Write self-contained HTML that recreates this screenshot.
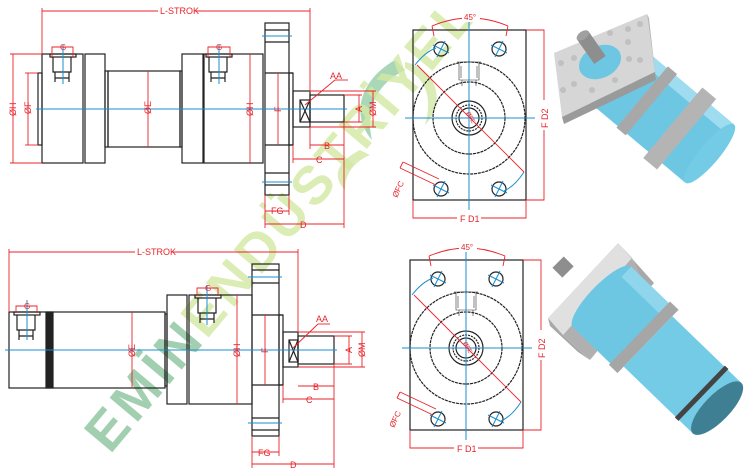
<!DOCTYPE html>
<html><head><meta charset="utf-8"><style>
html,body{margin:0;padding:0;background:#fff;width:747px;height:475px;overflow:hidden}
svg{display:block}
text{font-family:"Liberation Sans",sans-serif}
.k{fill:none;stroke:#222;stroke-width:1.2}
.r{fill:none;stroke:#e8232a;stroke-width:0.9}
.b{fill:none;stroke:#1a8fd0;stroke-width:1}
.t{fill:#e8232a;font-size:9px}
.thin{fill:none;stroke:#333;stroke-width:0.6}
</style></head><body>
<svg width="747" height="475" viewBox="0 0 747 475" xmlns="http://www.w3.org/2000/svg">
<!-- watermark -->
<g opacity="0.75">
<path d="M395,60 C360,80 350,115 372,140 C365,110 375,85 405,70 Z" fill="#8cc9a0"/>
<path d="M405,62 C440,70 445,105 425,125 C432,100 428,80 405,68 Z" fill="#cfe6a0"/>
<path d="M360,150 C340,160 330,175 345,190 C345,175 352,163 370,155 Z" fill="#cfe6a0"/>
</g>
<g transform="translate(110,455) rotate(-50)" opacity="0.8">
<text x="0" y="0" font-size="54" font-weight="bold" fill="#8cc49c" letter-spacing="4">EMİN</text>
<text x="150" y="0" font-size="54" font-weight="bold" fill="#d3e9a2" letter-spacing="4">ENDÜSTRİYEL</text>
</g>

<!-- ===== TOP LEFT SIDE VIEW ===== -->
<g class="k">
<rect x="38" y="73" width="4" height="72"/>
<rect x="42" y="54" width="41" height="109"/>
<rect x="85" y="54" width="20" height="109"/>
<rect x="105" y="71" width="3" height="76"/>
<rect x="108" y="71" width="72" height="76"/>
<rect x="180" y="71" width="2" height="76"/>
<rect x="182" y="54" width="21" height="109"/>
<rect x="204" y="54" width="59" height="109"/>
<rect x="265" y="23" width="24" height="172"/>
<line x1="265" y1="30" x2="289" y2="30"/><line x1="265" y1="42" x2="289" y2="42"/>
<line x1="265" y1="173" x2="289" y2="173"/><line x1="265" y1="185" x2="289" y2="185"/>
<line x1="265" y1="73" x2="293" y2="73"/><line x1="265" y1="145" x2="293" y2="145"/>
<rect x="289" y="73" width="4" height="72"/>
<rect x="293" y="91" width="17" height="36"/>
<rect x="300" y="100" width="10" height="22"/>
<line x1="300" y1="100" x2="310" y2="122"/><line x1="310" y1="100" x2="300" y2="122"/>
<rect x="310" y="95" width="34" height="27"/>
<rect x="50" y="54" width="26" height="3"/>
<path d="M53,57 V72 H71 V57 M55,72 V82 M69,72 V82 M55,78 H69"/>
<rect x="206" y="54" width="26" height="3"/>
<path d="M209,57 V72 H227 V57 M211,72 V82 M225,72 V82 M211,78 H225"/>
</g>
<line class="b" x1="36" y1="109" x2="347" y2="109"/>
<line class="b" x1="63" y1="45" x2="63" y2="84"/>
<line class="b" x1="219" y1="45" x2="219" y2="84"/>
<line class="b" x1="262" y1="36" x2="292" y2="36"/>
<line class="b" x1="262" y1="182" x2="292" y2="182"/>
<g class="r">
<line x1="42" y1="11" x2="310" y2="11"/><line x1="42" y1="8" x2="42" y2="54"/><line x1="310" y1="8" x2="310" y2="92"/>
<line x1="10" y1="54" x2="42" y2="54"/><line x1="10" y1="163" x2="42" y2="163"/><line x1="13" y1="54" x2="13" y2="163"/>
<line x1="25" y1="73" x2="38" y2="73"/><line x1="25" y1="145" x2="38" y2="145"/><line x1="28" y1="73" x2="28" y2="145"/>
<line x1="148" y1="71" x2="148" y2="147"/>
<line x1="250" y1="54" x2="250" y2="163"/>
<line x1="278" y1="73" x2="278" y2="145"/>
<line x1="310" y1="91" x2="376" y2="91"/><line x1="310" y1="127" x2="376" y2="127"/><line x1="344" y1="95" x2="362" y2="95"/><line x1="344" y1="122" x2="362" y2="122"/>
<line x1="359" y1="95" x2="359" y2="122"/><line x1="373" y1="91" x2="373" y2="127"/>
<line x1="305" y1="105" x2="335" y2="80"/><line x1="335" y1="80" x2="348" y2="80"/>
<line x1="310" y1="127" x2="310" y2="149"/><line x1="344" y1="122" x2="344" y2="228"/>
<line x1="310" y1="145" x2="344" y2="145"/>
<line x1="293" y1="145" x2="293" y2="163"/><line x1="293" y1="159" x2="344" y2="159"/>
<line x1="265" y1="195" x2="265" y2="228"/><line x1="289" y1="195" x2="289" y2="215"/>
<line x1="265" y1="211" x2="289" y2="211"/><line x1="265" y1="224" x2="344" y2="224"/>
<path d="M52,58 V47 H73 V58 M208,58 V47 H230 V58"/>
</g>
<g class="t">
<rect x="158" y="6" width="36" height="10" fill="#fff" stroke="none"/>
<text x="160" y="14">L-STROK</text>
<text x="60" y="50" font-size="8">G</text><text x="216" y="50" font-size="8">G</text>
<text transform="translate(16,116) rotate(-90)">ØH</text>
<text transform="translate(31,114) rotate(-90)">ØF</text>
<text transform="translate(151,114) rotate(-90)">ØE</text>
<text transform="translate(253,116) rotate(-90)">ØH</text>
<text transform="translate(281,112) rotate(-90)">F</text>
<text transform="translate(362,112) rotate(-90)">A</text>
<text transform="translate(376,116) rotate(-90)">ØM</text>
<text x="330" y="79">AA</text>
<text x="324" y="149">B</text><text x="316" y="163">C</text>
<text x="271" y="214">FG</text><text x="300" y="228">D</text>
</g>

<!-- ===== BOTTOM LEFT SIDE VIEW ===== -->
<g class="k">
<rect x="9" y="312" width="156" height="76"/>
<rect x="46" y="312" width="7" height="76" fill="#222"/>
<rect x="165" y="314" width="2" height="72"/>
<rect x="167" y="295" width="20" height="109"/>
<rect x="189" y="295" width="63" height="109"/>
<rect x="252" y="264" width="27" height="172"/>
<line x1="252" y1="270" x2="279" y2="270"/><line x1="252" y1="283" x2="279" y2="283"/>
<line x1="252" y1="418" x2="279" y2="418"/><line x1="252" y1="430" x2="279" y2="430"/>
<line x1="252" y1="315" x2="283" y2="315"/><line x1="252" y1="385" x2="283" y2="385"/>
<rect x="279" y="315" width="4" height="70"/>
<rect x="283" y="332" width="15" height="35"/>
<rect x="289" y="340" width="9" height="22"/>
<line x1="289" y1="340" x2="298" y2="362"/><line x1="298" y1="340" x2="289" y2="362"/>
<rect x="298" y="336" width="36" height="28"/>
<rect x="14" y="312" width="26" height="3"/>
<path d="M17,315 V330 H35 V315 M19,330 V340 M33,330 V340 M19,336 H33"/>
<rect x="195" y="295" width="26" height="3"/>
<path d="M198,298 V313 H216 V298 M200,313 V323 M214,313 V323 M200,319 H214"/>
</g>
<line class="b" x1="5" y1="350" x2="337" y2="350"/>
<line class="b" x1="27" y1="300" x2="27" y2="340"/>
<line class="b" x1="207" y1="285" x2="207" y2="325"/>
<line class="b" x1="248" y1="277" x2="282" y2="277"/>
<line class="b" x1="248" y1="423" x2="282" y2="423"/>
<g class="r">
<line x1="9" y1="252" x2="298" y2="252"/><line x1="9" y1="249" x2="9" y2="312"/><line x1="298" y1="249" x2="298" y2="332"/>
<line x1="132" y1="312" x2="132" y2="388"/>
<line x1="237" y1="295" x2="237" y2="404"/>
<line x1="265" y1="315" x2="265" y2="385"/>
<line x1="298" y1="332" x2="365" y2="332"/><line x1="298" y1="367" x2="365" y2="367"/><line x1="334" y1="336" x2="352" y2="336"/><line x1="334" y1="364" x2="352" y2="364"/>
<line x1="349" y1="336" x2="349" y2="364"/><line x1="362" y1="332" x2="362" y2="367"/>
<line x1="293" y1="348" x2="318" y2="324"/><line x1="318" y1="324" x2="330" y2="324"/>
<line x1="334" y1="364" x2="334" y2="468"/>
<line x1="298" y1="386" x2="334" y2="386"/>
<line x1="283" y1="385" x2="283" y2="403"/><line x1="283" y1="399" x2="334" y2="399"/>
<line x1="252" y1="436" x2="252" y2="468"/><line x1="279" y1="436" x2="279" y2="456"/>
<line x1="252" y1="452" x2="279" y2="452"/><line x1="252" y1="464" x2="334" y2="464"/>
<path d="M16,313 V306 H37 V313 M197,296 V288 H218 V296"/>
</g>
<g class="t">
<rect x="135" y="247" width="36" height="10" fill="#fff" stroke="none"/>
<text x="137" y="255">L-STROK</text>
<text x="24" y="309" font-size="8">G</text><text x="205" y="291" font-size="8">G</text>
<text transform="translate(135,357) rotate(-90)">ØE</text>
<text transform="translate(240,357) rotate(-90)">ØH</text>
<text transform="translate(268,353) rotate(-90)">F</text>
<text transform="translate(352,353) rotate(-90)">A</text>
<text transform="translate(365,357) rotate(-90)">ØM</text>
<text x="316" y="322">AA</text>
<text x="313" y="390">B</text><text x="306" y="403">C</text>
<text x="258" y="456">FG</text><text x="290" y="468">D</text>
</g>

<!-- ===== FRONT VIEWS ===== -->
<g id="fv1">
<rect class="k" x="413" y="30" width="113" height="170"/>
<circle class="k" cx="469" cy="118" r="56" stroke-dasharray="3 0.8"/>
<circle class="k" cx="469" cy="118" r="36" stroke-dasharray="3 0.8"/>
<circle class="k" cx="469" cy="118" r="17"/>
<circle class="k" cx="469" cy="118" r="13" stroke-dasharray="2 1"/>
<circle class="k" cx="469" cy="118" r="10"/>
<path class="thin" d="M457,62 H481 M459,62 V80 H479 V62 M461,66 V78 M477,66 V78 M462,80 V86 M476,80 V86"/>
<circle class="k" cx="441" cy="49" r="7"/><circle class="k" cx="499" cy="49" r="7"/>
<circle class="k" cx="441" cy="189" r="7"/><circle class="k" cx="499" cy="189" r="7"/>
<g class="b" stroke-width="0.8"><path d="M433,45 l16,8 M437,57 l8,-16 M491,45 l16,8 M495,57 l8,-16 M433,185 l16,8 M437,197 l8,-16 M491,185 l16,8 M495,197 l8,-16"/>
<path d="M415,65 Q425,52 436,48 M524,172 Q515,186 504,191"/></g>
<line class="b" x1="469" y1="12" x2="469" y2="210"/>
<line class="b" x1="405" y1="118" x2="535" y2="118"/>
<g class="r">
<line x1="417" y1="65" x2="524" y2="172"/>
<path d="M432,26 Q470,10 508,26 M432,26 l2,10 M508,26 l-2,10"/>
<path d="M526,30 H544 V200 H526 M413,200 V218 H526 V200"/>
<path d="M400,168 L436,185 M403,162 L439,179 M400,168 L403,162"/>
</g>
<g class="t">
<rect x="462" y="12" width="18" height="10" fill="#fff" stroke="none"/>
<text x="464" y="20" font-size="8">45°</text>
<rect x="538" y="100" width="12" height="30" fill="#fff" stroke="none"/>
<text transform="translate(548,128) rotate(-90)">F D2</text>
<rect x="457" y="213" width="24" height="10" fill="#fff" stroke="none"/>
<text x="460" y="222">F D1</text>
<text transform="translate(397,198) rotate(-65)" font-size="8">ØFC</text>
<text transform="translate(466,113) rotate(60)" font-size="6">ØFE</text>
</g>
</g>
<use href="#fv1" transform="translate(-3,230)"/>

<!-- ===== 3D TOP ===== -->
<g transform="translate(610,70) rotate(40)">
<rect x="0" y="-38" width="130" height="76" fill="#6ec7e2"/>
<rect x="0" y="-38" width="130" height="12" fill="#9fdcef"/>
<rect x="42" y="-40" width="12" height="80" fill="#a8a8a8"/>
<rect x="82" y="-46" width="18" height="92" fill="#b4b4b4"/>
<ellipse cx="130" cy="0" rx="10" ry="38" fill="#74cbe6"/>
</g>
<polygon points="554,53 647,14 655,72 562,117" fill="#d6d6d6"/>
<polygon points="562,117 655,72 656,80 564,124" fill="#9a9a9a"/>
<polygon points="647,14 655,72 656,80 649,18" fill="#b8b8b8"/>
<ellipse cx="600" cy="62" rx="22" ry="16" transform="rotate(-25 600 62)" fill="#6ec7e2"/>
<g fill="#c0c0c0"><circle cx="561" cy="63" r="3"/><circle cx="574" cy="58" r="3"/><circle cx="610" cy="33" r="3"/><circle cx="628" cy="29" r="3"/><circle cx="640" cy="24" r="3"/><circle cx="628" cy="42" r="3"/><circle cx="629" cy="59" r="3"/><circle cx="640" cy="60" r="3"/><circle cx="563" cy="90" r="3"/><circle cx="574" cy="84" r="3"/><circle cx="592" cy="90" r="3"/><circle cx="615" cy="80" r="3"/></g>
<g transform="translate(600,60) rotate(-125)"><rect x="0" y="-7" width="30" height="14" fill="#8e8e8e"/><ellipse cx="30" cy="0" rx="4" ry="7" fill="#a0a0a0"/></g>

<!-- ===== 3D BOTTOM ===== -->
<g transform="translate(568,272) rotate(-135)"><rect x="0" y="-8" width="14" height="16" fill="#8e8e8e"/></g>
<polygon points="548,318 618,243 632,258 563,335" fill="#e0e0e0"/>
<polygon points="618,243 654,283 646,292 632,258" fill="#a8a8a8"/>
<polygon points="548,318 563,335 590,360 578,352 550,326" fill="#a8a8a8"/>
<polygon points="563,335 632,258 646,292 590,360" fill="#b0b0b0"/>
<g transform="translate(602,297) rotate(44)">
<ellipse cx="0" cy="0" rx="12" ry="42" fill="#6ec7e2"/>
<rect x="0" y="-42" width="58" height="84" fill="#6ec7e2"/>
<rect x="0" y="-42" width="58" height="14" fill="#8fd6ec"/>
<rect x="52" y="-44" width="12" height="88" fill="#a6a6a6"/>
<rect x="64" y="-35" width="96" height="70" fill="#74cbe6"/>
<rect x="136" y="-36" width="5" height="72" fill="#444"/>
<ellipse cx="160" cy="0" rx="13" ry="35" fill="#3f7f93"/>
</g>
</svg>
</body></html>
